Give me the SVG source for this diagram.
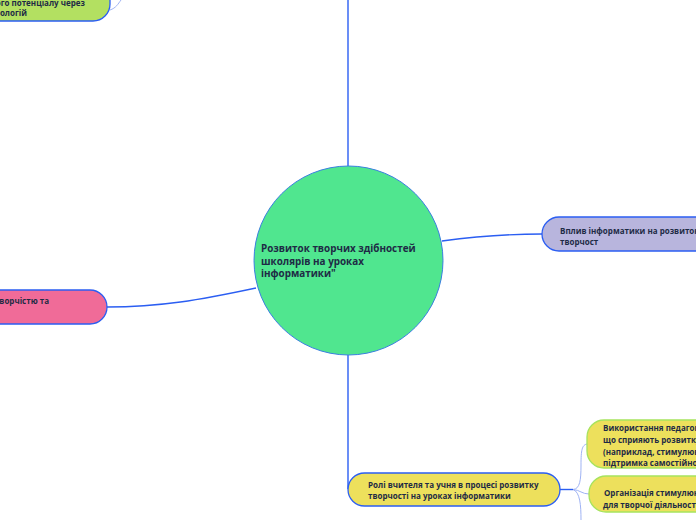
<svg xmlns="http://www.w3.org/2000/svg" width="696" height="520" viewBox="0 0 696 520">
<style>
  .t { font-family: "Open Sans", "Noto Sans", "DejaVu Sans", sans-serif; font-weight: 700; fill: #1e2b45; }
  .s { font-size: 8px; }
  .main { stroke: #2b5ef2; stroke-width: 1.4; fill: none; }
  .sub { stroke: #9fb3f4; stroke-width: 1; fill: none; }
  .node { stroke: #2b5ef2; stroke-width: 1.3; }
  .subnode { stroke: #a6e35e; stroke-width: 1.3; }
</style>
<rect width="696" height="520" fill="#ffffff"/>
<g id="connectors">
  <path class="main" d="M348,0 L348,166"/>
  <path class="main" d="M348,355 L348,489"/>
  <path class="main" d="M442,241 C480,236 510,234 542,234"/>
  <path class="main" d="M256,288 C200,300 160,307 107,307"/>
  <path class="main" d="M560,489.5 L573,489.5" stroke-width="2.2"/>
  <path class="sub" d="M573,489.5 C580,489 581,480 581,465 C581,450 582,445 587,444"/>
  <path class="sub" d="M573,489.5 C580,490 582,494 589,494"/>
  <path class="sub" d="M573,489.5 C580,492 581,505 581,520"/>
  <path class="sub" d="M110,10 C116,8 118,4 121,0"/>
</g>
<g id="center">
  <circle cx="348.5" cy="260.5" r="94.5" fill="#50e68f" stroke="#3a7fe0" stroke-width="1"/>
  <text class="t" font-size="9.9">
    <tspan x="261" y="252">Розвиток творчих здібностей</tspan>
    <tspan x="261" y="264.5">школярів на уроках</tspan>
    <tspan x="261" y="277">інформатики"</tspan>
  </text>
</g>
<g id="node-top-left">
  <rect class="node" x="-100" y="-30" width="210" height="51" rx="17" fill="#b3e061"/>
  <text class="t s" text-anchor="end">
    <tspan x="87" y="5.5">творчого потенціалу через</tspan>
    <tspan x="27" y="16">технологій</tspan>
  </text>
</g>
<g id="node-left">
  <rect class="node" x="-100" y="290" width="207" height="34" rx="17" fill="#f06b98"/>
  <text class="t s" text-anchor="end" x="49" y="304">творчістю та</text>
</g>
<g id="node-right">
  <rect class="node" x="542" y="217" width="200" height="34" rx="17" fill="#b8b5dd"/>
  <text class="t s">
    <tspan x="560" y="234">Вплив інформатики на розвиток</tspan>
    <tspan x="560" y="245">творчост</tspan>
  </text>
</g>
<g id="node-bottom">
  <rect class="node" x="348" y="473" width="212" height="33" rx="16.5" fill="#ede05c"/>
  <text class="t s">
    <tspan x="368" y="488">Ролі вчителя та учня в процесі розвитку</tspan>
    <tspan x="368" y="499">творчості на уроках інформатики</tspan>
  </text>
</g>
<g id="node-sub-a">
  <rect class="subnode" x="587" y="420" width="150" height="48" rx="17" fill="#ede05c"/>
  <text class="t s">
    <tspan x="603" y="431">Використання педагогічних</tspan>
    <tspan x="603" y="443">що сприяють розвитку</tspan>
    <tspan x="603" y="454.5">(наприклад, стимулювання</tspan>
    <tspan x="603" y="466">підтримка самостійності</tspan>
  </text>
</g>
<g id="node-sub-b">
  <rect class="subnode" x="589" y="476" width="150" height="36" rx="17" fill="#ede05c"/>
  <text class="t s">
    <tspan x="604" y="496">Організація стимулюючого</tspan>
    <tspan x="603" y="508">для творчої діяльності</tspan>
  </text>
</g>
</svg>
